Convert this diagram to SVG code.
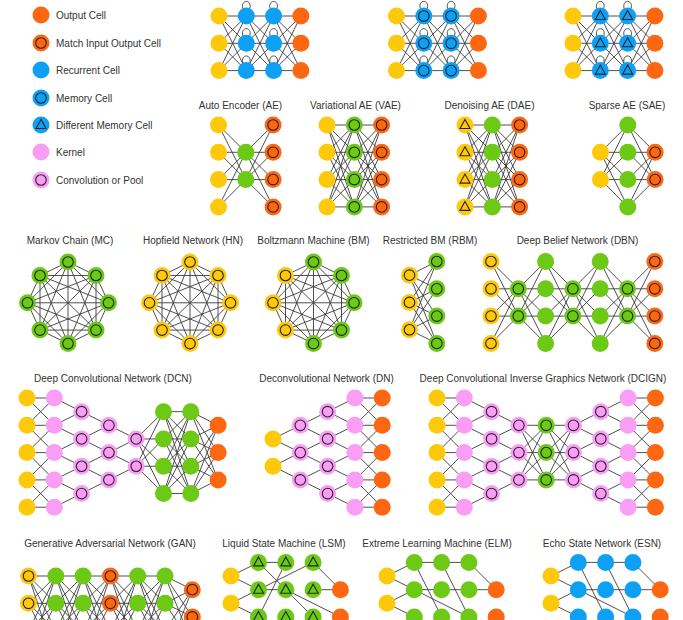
<svg xmlns="http://www.w3.org/2000/svg" width="683" height="620" viewBox="0 0 683 620">
<style>
.e{fill:none;stroke:#3c3c3c;stroke-width:0.9}
.m{fill:none;stroke:#262626;stroke-width:1.1}
text{font-family:"Liberation Sans",Arial,sans-serif;font-size:10px;fill:#333}
.t{text-anchor:middle}
</style>
<defs>
<circle id="Y" r="8.5" fill="#FEC80B"/>
<circle id="O" r="8.5" fill="#FE6711"/>
<circle id="B" r="8.5" fill="#0EA0F4"/>
<circle id="G" r="8.5" fill="#6CC916"/>
<circle id="P" r="8.5" fill="#F99DF5"/>
<circle id="ci" r="5.3" class="m"/>
<path id="tr" d="M0,-5.5L5,3.5L-5,3.5Z" class="m"/>
<g id="Yc"><use href="#Y"/><use href="#ci"/></g>
<g id="Yt"><use href="#Y"/><use href="#tr"/></g>
<g id="Oc"><use href="#O"/><use href="#ci"/></g>
<g id="Bc"><use href="#B"/><use href="#ci"/></g>
<g id="Bt"><use href="#B"/><use href="#tr"/></g>
<g id="Gc"><use href="#G"/><use href="#ci"/></g>
<g id="Gt"><use href="#G"/><use href="#tr"/></g>
<g id="Pc"><use href="#P"/><use href="#ci"/></g>
<path id="loop" class="e" d="M-3.5,-7.5C-6,-17 6,-17 3.5,-7.5"/>
<path id="F33" class="e" d="M0 0L27.3 0M0 0L27.3 27.3M0 0L27.3 54.6M0 27.3L27.3 0M0 27.3L27.3 27.3M0 27.3L27.3 54.6M0 54.6L27.3 0M0 54.6L27.3 27.3M0 54.6L27.3 54.6"/>
<path id="F44" class="e" d="M0 0L27.3 0M0 0L27.3 27.3M0 0L27.3 54.6M0 0L27.3 81.9M0 27.3L27.3 0M0 27.3L27.3 27.3M0 27.3L27.3 54.6M0 27.3L27.3 81.9M0 54.6L27.3 0M0 54.6L27.3 27.3M0 54.6L27.3 54.6M0 54.6L27.3 81.9M0 81.9L27.3 0M0 81.9L27.3 27.3M0 81.9L27.3 54.6M0 81.9L27.3 81.9"/>
<path id="F42" class="e" d="M0 0L27.3 27.3M0 0L27.3 54.6M0 27.3L27.3 27.3M0 27.3L27.3 54.6M0 54.6L27.3 27.3M0 54.6L27.3 54.6M0 81.9L27.3 27.3M0 81.9L27.3 54.6"/>
<path id="F24" class="e" d="M0 27.3L27.3 0M0 27.3L27.3 27.3M0 27.3L27.3 54.6M0 27.3L27.3 81.9M0 54.6L27.3 0M0 54.6L27.3 27.3M0 54.6L27.3 54.6M0 54.6L27.3 81.9"/>
<path id="F43h" class="e" d="M0 0L27.3 13.65M0 0L27.3 40.95M0 0L27.3 68.25M0 27.3L27.3 13.65M0 27.3L27.3 40.95M0 27.3L27.3 68.25M0 54.6L27.3 13.65M0 54.6L27.3 40.95M0 54.6L27.3 68.25M0 81.9L27.3 13.65M0 81.9L27.3 40.95M0 81.9L27.3 68.25"/>
<path id="F34h" class="e" d="M0 13.65L27.3 0M0 13.65L27.3 27.3M0 13.65L27.3 54.6M0 13.65L27.3 81.9M0 40.95L27.3 0M0 40.95L27.3 27.3M0 40.95L27.3 54.6M0 40.95L27.3 81.9M0 68.25L27.3 0M0 68.25L27.3 27.3M0 68.25L27.3 54.6M0 68.25L27.3 81.9"/>
<path id="X5" class="e" d="M0 0L27.3 0M0 27.3L27.3 27.3M0 54.6L27.3 54.6M0 81.9L27.3 81.9M0 109.2L27.3 109.2M0 0L27.3 27.3M0 27.3L27.3 0M0 27.3L27.3 54.6M0 54.6L27.3 27.3M0 54.6L27.3 81.9M0 81.9L27.3 54.6M0 81.9L27.3 109.2M0 109.2L27.3 81.9"/>
<path id="C54" class="e" d="M0 0L27.3 13.65M0 27.3L27.3 13.65M0 27.3L27.3 40.95M0 54.6L27.3 40.95M0 54.6L27.3 68.25M0 81.9L27.3 68.25M0 81.9L27.3 95.55M0 109.2L27.3 95.55"/>
<path id="C45" class="e" d="M0 13.65L27.3 0M0 13.65L27.3 27.3M0 40.95L27.3 27.3M0 40.95L27.3 54.6M0 68.25L27.3 54.6M0 68.25L27.3 81.9M0 95.55L27.3 81.9M0 95.55L27.3 109.2"/>
<path id="C43" class="e" d="M0 0L27.3 13.65M0 27.3L27.3 13.65M0 27.3L27.3 40.95M0 54.6L27.3 40.95M0 54.6L27.3 68.25M0 81.9L27.3 68.25"/>
<path id="C34" class="e" d="M0 13.65L27.3 0M0 13.65L27.3 27.3M0 40.95L27.3 27.3M0 40.95L27.3 54.6M0 68.25L27.3 54.6M0 68.25L27.3 81.9"/>
<path id="C32" class="e" d="M0 0L27.3 13.65M0 27.3L27.3 13.65M0 27.3L27.3 40.95M0 54.6L27.3 40.95"/>
<path id="C23" class="e" d="M0 13.65L27.3 0M0 13.65L27.3 27.3M0 40.95L27.3 27.3M0 40.95L27.3 54.6"/>
<path id="K8" class="e" d="M0,-40.8L28,-27.3L40.5,0L28,27.3L0,40.8L-28,27.3L-40.5,0L-28,-27.3ZM0,-40.8L40.5,0L0,40.8L-40.5,0ZM28,-27.3L28,27.3L-28,27.3L-28,-27.3ZM0,-40.8L28,27.3L-40.5,0L28,-27.3L0,40.8L-28,-27.3L40.5,0L-28,27.3ZM0,-40.8L0,40.8M28,-27.3L-28,27.3M40.5,0L-40.5,0M28,27.3L-28,-27.3"/>
</defs>
<rect width="683" height="620" fill="#fff"/>

<g id="legend">
<use href="#O" x="41" y="15"/><text x="56" y="18.6">Output Cell</text>
<use href="#Oc" x="41" y="43"/><text x="56" y="46.6">Match Input Output Cell</text>
<use href="#B" x="41" y="70"/><text x="56" y="73.6">Recurrent Cell</text>
<use href="#Bc" x="41" y="98"/><text x="56" y="101.6">Memory Cell</text>
<use href="#Bt" x="41" y="125"/><text x="56" y="128.6">Different Memory Cell</text>
<use href="#P" x="41" y="152"/><text x="56" y="155.6">Kernel</text>
<use href="#Pc" x="41" y="180"/><text x="56" y="183.6">Convolution or Pool</text>
</g>

<g id="connectors">
<use href="#F33" x="219" y="16"/><use href="#F33" x="246.3" y="16"/><use href="#F33" x="273.6" y="16"/>
<use href="#F33" x="396.5" y="16"/><use href="#F33" x="423.8" y="16"/><use href="#F33" x="451.1" y="16"/>
<use href="#F33" x="573" y="16"/><use href="#F33" x="600.3" y="16"/><use href="#F33" x="627.6" y="16"/>
<use href="#loop" x="246.3" y="16"/><use href="#loop" x="246.3" y="43.3"/><use href="#loop" x="246.3" y="70.6"/>
<use href="#loop" x="273.6" y="16"/><use href="#loop" x="273.6" y="43.3"/><use href="#loop" x="273.6" y="70.6"/>
<use href="#loop" x="423.8" y="16"/><use href="#loop" x="423.8" y="43.3"/><use href="#loop" x="423.8" y="70.6"/>
<use href="#loop" x="451.1" y="16"/><use href="#loop" x="451.1" y="43.3"/><use href="#loop" x="451.1" y="70.6"/>
<use href="#loop" x="600.3" y="16"/><use href="#loop" x="600.3" y="43.3"/><use href="#loop" x="600.3" y="70.6"/>
<use href="#loop" x="627.6" y="16"/><use href="#loop" x="627.6" y="43.3"/><use href="#loop" x="627.6" y="70.6"/>

<use href="#F42" x="218.5" y="125"/><use href="#F24" x="245.8" y="125"/>
<use href="#F44" x="327" y="125"/><use href="#F44" x="354.3" y="125"/>
<use href="#F44" x="465" y="125"/><use href="#F44" x="492.3" y="125"/>
<use href="#F24" x="600.5" y="125"/><use href="#F42" x="627.8" y="125"/>

<use href="#K8" x="68" y="302.8"/><use href="#K8" x="190" y="302.8"/><use href="#K8" x="313.5" y="302.8"/>
<use href="#F34h" x="409.5" y="261.5"/>
<use href="#F42" x="491" y="261.5"/><use href="#F24" x="518.3" y="261.5"/><use href="#F42" x="545.6" y="261.5"/><use href="#F24" x="572.9" y="261.5"/><use href="#F42" x="600.2" y="261.5"/><use href="#F24" x="627.5" y="261.5"/>

<use href="#X5" x="27" y="398"/><use href="#C54" x="54.3" y="398"/><use href="#C43" x="81.6" y="411.65"/><use href="#C32" x="108.9" y="425.3"/><use href="#F24" x="136.2" y="411.65"/><use href="#F44" x="163.5" y="411.65"/><use href="#F43h" x="190.8" y="411.65"/>
<use href="#C23" x="273" y="425.3"/><use href="#C34" x="300.3" y="411.65"/><use href="#C45" x="327.6" y="398"/><use href="#X5" x="354.9" y="398"/>
<use href="#X5" x="437" y="398"/><use href="#C54" x="464.3" y="398"/><use href="#C43" x="491.6" y="411.65"/><use href="#F33" x="518.9" y="425.3"/><use href="#F33" x="546.2" y="425.3"/><use href="#C34" x="573.5" y="411.65"/><use href="#C45" x="600.8" y="398"/><use href="#X5" x="628.1" y="398"/>

<use href="#F44" x="28.5" y="576"/><use href="#F44" x="55.8" y="576"/><use href="#F44" x="83.1" y="576"/><use href="#F44" x="110.4" y="576"/><use href="#F44" x="137.7" y="576"/><use href="#F43h" x="165" y="576"/>
<path class="e" d="M231 576L258.5 562.4M231 576L258.5 589.7M231 603.3L258.5 589.7M231 603.3L258.5 617M258.5 562.4L285.8 562.4M258.5 562.4L313.1 617M285.8 562.4L258.5 617M313.1 562.4L340.4 589.7M258.5 589.7L285.8 589.7M285.8 589.7L340.4 617M313.1 589.7L340.4 589.7M258.5 589.7L313.1 562.4"/>
<path class="e" d="M387 576L414.3 562.4M387 576L414.3 589.7M387 603.3L414.3 589.7M387 603.3L414.3 617M414.3 562.4L441.6 562.4M441.6 562.4L468.9 562.4M414.3 562.4L441.6 617M414.3 589.7L441.6 589.7M441.6 589.7L468.9 589.7M468.9 562.4L496.2 589.7M468.9 589.7L496.2 589.7M441.6 562.4L468.9 617M414.3 589.7L468.9 617"/>
<path class="e" d="M551 576L578.3 562.4M551 576L578.3 589.7M551 603.3L578.3 589.7M551 603.3L578.3 617M578.3 562.4L605.6 562.4M605.6 562.4L632.9 562.4M578.3 562.4L605.6 617M578.3 589.7L605.6 589.7M605.6 589.7L632.9 589.7M632.9 562.4L660.2 589.7M632.9 589.7L660.2 589.7M605.6 562.4L632.9 617M578.3 589.7L632.9 617"/>
</g>

<g id="rnn">
<use href="#Y" x="219" y="16"/><use href="#Y" x="219" y="43.3"/><use href="#Y" x="219" y="70.6"/>
<use href="#B" x="246.3" y="16"/><use href="#B" x="246.3" y="43.3"/><use href="#B" x="246.3" y="70.6"/>
<use href="#B" x="273.6" y="16"/><use href="#B" x="273.6" y="43.3"/><use href="#B" x="273.6" y="70.6"/>
<use href="#O" x="300.9" y="16"/><use href="#O" x="300.9" y="43.3"/><use href="#O" x="300.9" y="70.6"/>
</g>
<g id="lstm">
<use href="#Y" x="396.5" y="16"/><use href="#Y" x="396.5" y="43.3"/><use href="#Y" x="396.5" y="70.6"/>
<use href="#Bc" x="423.8" y="16"/><use href="#Bc" x="423.8" y="43.3"/><use href="#Bc" x="423.8" y="70.6"/>
<use href="#Bc" x="451.1" y="16"/><use href="#Bc" x="451.1" y="43.3"/><use href="#Bc" x="451.1" y="70.6"/>
<use href="#O" x="478.4" y="16"/><use href="#O" x="478.4" y="43.3"/><use href="#O" x="478.4" y="70.6"/>
</g>
<g id="gru">
<use href="#Y" x="573" y="16"/><use href="#Y" x="573" y="43.3"/><use href="#Y" x="573" y="70.6"/>
<use href="#Bt" x="600.3" y="16"/><use href="#Bt" x="600.3" y="43.3"/><use href="#Bt" x="600.3" y="70.6"/>
<use href="#Bt" x="627.6" y="16"/><use href="#Bt" x="627.6" y="43.3"/><use href="#Bt" x="627.6" y="70.6"/>
<use href="#O" x="654.9" y="16"/><use href="#O" x="654.9" y="43.3"/><use href="#O" x="654.9" y="70.6"/>
</g>

<g id="ae">
<text class="t" x="240.5" y="109.3">Auto Encoder (AE)</text>
<use href="#Y" x="218.5" y="125"/><use href="#Y" x="218.5" y="152.3"/><use href="#Y" x="218.5" y="179.6"/><use href="#Y" x="218.5" y="206.9"/>
<use href="#G" x="245.8" y="152.3"/><use href="#G" x="245.8" y="179.6"/>
<use href="#Oc" x="273.1" y="125"/><use href="#Oc" x="273.1" y="152.3"/><use href="#Oc" x="273.1" y="179.6"/><use href="#Oc" x="273.1" y="206.9"/>
</g>
<g id="vae">
<text class="t" x="355.5" y="109.3">Variational AE (VAE)</text>
<use href="#Y" x="327" y="125"/><use href="#Y" x="327" y="152.3"/><use href="#Y" x="327" y="179.6"/><use href="#Y" x="327" y="206.9"/>
<use href="#Gc" x="354.3" y="125"/><use href="#Gc" x="354.3" y="152.3"/><use href="#Gc" x="354.3" y="179.6"/><use href="#Gc" x="354.3" y="206.9"/>
<use href="#Oc" x="381.6" y="125"/><use href="#Oc" x="381.6" y="152.3"/><use href="#Oc" x="381.6" y="179.6"/><use href="#Oc" x="381.6" y="206.9"/>
</g>
<g id="dae">
<text class="t" x="489.5" y="109.3">Denoising AE (DAE)</text>
<use href="#Yt" x="465" y="125"/><use href="#Yt" x="465" y="152.3"/><use href="#Yt" x="465" y="179.6"/><use href="#Yt" x="465" y="206.9"/>
<use href="#G" x="492.3" y="125"/><use href="#G" x="492.3" y="152.3"/><use href="#G" x="492.3" y="179.6"/><use href="#G" x="492.3" y="206.9"/>
<use href="#Oc" x="519.6" y="125"/><use href="#Oc" x="519.6" y="152.3"/><use href="#Oc" x="519.6" y="179.6"/><use href="#Oc" x="519.6" y="206.9"/>
</g>
<g id="sae">
<text class="t" x="627" y="109.3">Sparse AE (SAE)</text>
<use href="#Y" x="600.5" y="152.3"/><use href="#Y" x="600.5" y="179.6"/>
<use href="#G" x="627.8" y="125"/><use href="#G" x="627.8" y="152.3"/><use href="#G" x="627.8" y="179.6"/><use href="#G" x="627.8" y="206.9"/>
<use href="#Oc" x="655.1" y="152.3"/><use href="#Oc" x="655.1" y="179.6"/>
</g>

<g id="mc">
<text class="t" x="70" y="244.3">Markov Chain (MC)</text>
<use href="#Gc" x="68" y="262"/><use href="#Gc" x="96" y="275.5"/><use href="#Gc" x="108.5" y="302.8"/><use href="#Gc" x="96" y="330.1"/><use href="#Gc" x="68" y="343.6"/><use href="#Gc" x="40" y="330.1"/><use href="#Gc" x="27.5" y="302.8"/><use href="#Gc" x="40" y="275.5"/>
</g>
<g id="hn">
<text class="t" x="193" y="244.3">Hopfield Network (HN)</text>
<use href="#Yc" x="190" y="262"/><use href="#Yc" x="218" y="275.5"/><use href="#Yc" x="230.5" y="302.8"/><use href="#Yc" x="218" y="330.1"/><use href="#Yc" x="190" y="343.6"/><use href="#Yc" x="162" y="330.1"/><use href="#Yc" x="149.5" y="302.8"/><use href="#Yc" x="162" y="275.5"/>
</g>
<g id="bm">
<text class="t" x="313.5" y="244.3">Boltzmann Machine (BM)</text>
<use href="#Gc" x="313.5" y="262"/><use href="#Gc" x="341.5" y="275.5"/><use href="#Gc" x="354" y="302.8"/><use href="#Gc" x="341.5" y="330.1"/><use href="#Gc" x="313.5" y="343.6"/><use href="#Yc" x="285.5" y="330.1"/><use href="#Yc" x="273" y="302.8"/><use href="#Yc" x="285.5" y="275.5"/>
</g>
<g id="rbm">
<text class="t" x="430" y="244.3">Restricted BM (RBM)</text>
<use href="#Yc" x="409.5" y="275.15"/><use href="#Yc" x="409.5" y="302.45"/><use href="#Yc" x="409.5" y="329.75"/>
<use href="#Gc" x="436.8" y="261.5"/><use href="#Gc" x="436.8" y="288.8"/><use href="#Gc" x="436.8" y="316.1"/><use href="#Gc" x="436.8" y="343.4"/>
</g>
<g id="dbn">
<text class="t" x="577.5" y="244.3">Deep Belief Network (DBN)</text>
<use href="#Yc" x="491" y="261.5"/><use href="#Yc" x="491" y="288.8"/><use href="#Yc" x="491" y="316.1"/><use href="#Yc" x="491" y="343.4"/>
<use href="#Gc" x="518.3" y="288.8"/><use href="#Gc" x="518.3" y="316.1"/>
<use href="#G" x="545.6" y="261.5"/><use href="#G" x="545.6" y="288.8"/><use href="#G" x="545.6" y="316.1"/><use href="#G" x="545.6" y="343.4"/>
<use href="#Gc" x="572.9" y="288.8"/><use href="#Gc" x="572.9" y="316.1"/>
<use href="#G" x="600.2" y="261.5"/><use href="#G" x="600.2" y="288.8"/><use href="#G" x="600.2" y="316.1"/><use href="#G" x="600.2" y="343.4"/>
<use href="#Gc" x="627.5" y="288.8"/><use href="#Gc" x="627.5" y="316.1"/>
<use href="#Oc" x="654.8" y="261.5"/><use href="#Oc" x="654.8" y="288.8"/><use href="#Oc" x="654.8" y="316.1"/><use href="#Oc" x="654.8" y="343.4"/>
</g>

<g id="dcn">
<text class="t" x="113" y="381.6">Deep Convolutional Network (DCN)</text>
<use href="#Y" x="27" y="398"/><use href="#Y" x="27" y="425.3"/><use href="#Y" x="27" y="452.6"/><use href="#Y" x="27" y="479.9"/><use href="#Y" x="27" y="507.2"/>
<use href="#P" x="54.3" y="398"/><use href="#P" x="54.3" y="425.3"/><use href="#P" x="54.3" y="452.6"/><use href="#P" x="54.3" y="479.9"/><use href="#P" x="54.3" y="507.2"/>
<use href="#Pc" x="81.6" y="411.65"/><use href="#Pc" x="81.6" y="438.95"/><use href="#Pc" x="81.6" y="466.25"/><use href="#Pc" x="81.6" y="493.55"/>
<use href="#Pc" x="108.9" y="425.3"/><use href="#Pc" x="108.9" y="452.6"/><use href="#Pc" x="108.9" y="479.9"/>
<use href="#Pc" x="136.2" y="438.95"/><use href="#Pc" x="136.2" y="466.25"/>
<use href="#G" x="163.5" y="411.65"/><use href="#G" x="163.5" y="438.95"/><use href="#G" x="163.5" y="466.25"/><use href="#G" x="163.5" y="493.55"/>
<use href="#G" x="190.8" y="411.65"/><use href="#G" x="190.8" y="438.95"/><use href="#G" x="190.8" y="466.25"/><use href="#G" x="190.8" y="493.55"/>
<use href="#O" x="218.1" y="425.3"/><use href="#O" x="218.1" y="452.6"/><use href="#O" x="218.1" y="479.9"/>
</g>
<g id="dn">
<text class="t" x="326.5" y="381.6">Deconvolutional Network (DN)</text>
<use href="#Y" x="273" y="438.95"/><use href="#Y" x="273" y="466.25"/>
<use href="#Pc" x="300.3" y="425.3"/><use href="#Pc" x="300.3" y="452.6"/><use href="#Pc" x="300.3" y="479.9"/>
<use href="#Pc" x="327.6" y="411.65"/><use href="#Pc" x="327.6" y="438.95"/><use href="#Pc" x="327.6" y="466.25"/><use href="#Pc" x="327.6" y="493.55"/>
<use href="#P" x="354.9" y="398"/><use href="#P" x="354.9" y="425.3"/><use href="#P" x="354.9" y="452.6"/><use href="#P" x="354.9" y="479.9"/><use href="#P" x="354.9" y="507.2"/>
<use href="#O" x="382.2" y="398"/><use href="#O" x="382.2" y="425.3"/><use href="#O" x="382.2" y="452.6"/><use href="#O" x="382.2" y="479.9"/><use href="#O" x="382.2" y="507.2"/>
</g>
<g id="dcign">
<text class="t" x="543" y="381.6">Deep Convolutional Inverse Graphics Network (DCIGN)</text>
<use href="#Y" x="437" y="398"/><use href="#Y" x="437" y="425.3"/><use href="#Y" x="437" y="452.6"/><use href="#Y" x="437" y="479.9"/><use href="#Y" x="437" y="507.2"/>
<use href="#P" x="464.3" y="398"/><use href="#P" x="464.3" y="425.3"/><use href="#P" x="464.3" y="452.6"/><use href="#P" x="464.3" y="479.9"/><use href="#P" x="464.3" y="507.2"/>
<use href="#Pc" x="491.6" y="411.65"/><use href="#Pc" x="491.6" y="438.95"/><use href="#Pc" x="491.6" y="466.25"/><use href="#Pc" x="491.6" y="493.55"/>
<use href="#Pc" x="518.9" y="425.3"/><use href="#Pc" x="518.9" y="452.6"/><use href="#Pc" x="518.9" y="479.9"/>
<use href="#Gc" x="546.2" y="425.3"/><use href="#Gc" x="546.2" y="452.6"/><use href="#Gc" x="546.2" y="479.9"/>
<use href="#Pc" x="573.5" y="425.3"/><use href="#Pc" x="573.5" y="452.6"/><use href="#Pc" x="573.5" y="479.9"/>
<use href="#Pc" x="600.8" y="411.65"/><use href="#Pc" x="600.8" y="438.95"/><use href="#Pc" x="600.8" y="466.25"/><use href="#Pc" x="600.8" y="493.55"/>
<use href="#P" x="628.1" y="398"/><use href="#P" x="628.1" y="425.3"/><use href="#P" x="628.1" y="452.6"/><use href="#P" x="628.1" y="479.9"/><use href="#P" x="628.1" y="507.2"/>
<use href="#O" x="655.4" y="398"/><use href="#O" x="655.4" y="425.3"/><use href="#O" x="655.4" y="452.6"/><use href="#O" x="655.4" y="479.9"/><use href="#O" x="655.4" y="507.2"/>
</g>

<g id="gan">
<text class="t" x="110" y="546.6">Generative Adversarial Network (GAN)</text>
<use href="#Yc" x="28.5" y="576"/><use href="#Yc" x="28.5" y="603.3"/><use href="#Yc" x="28.5" y="630.6"/>
<use href="#G" x="55.8" y="576"/><use href="#G" x="55.8" y="603.3"/><use href="#G" x="55.8" y="630.6"/>
<use href="#G" x="83.1" y="576"/><use href="#G" x="83.1" y="603.3"/><use href="#G" x="83.1" y="630.6"/>
<use href="#Oc" x="110.4" y="576"/><use href="#Oc" x="110.4" y="603.3"/><use href="#Oc" x="110.4" y="630.6"/>
<use href="#G" x="137.7" y="576"/><use href="#G" x="137.7" y="603.3"/><use href="#G" x="137.7" y="630.6"/>
<use href="#G" x="165" y="576"/><use href="#G" x="165" y="603.3"/><use href="#G" x="165" y="630.6"/>
<use href="#Oc" x="192.3" y="589.65"/><use href="#Oc" x="192.3" y="616.95"/>
</g>
<g id="lsm">
<text class="t" x="284" y="546.6">Liquid State Machine (LSM)</text>
<use href="#Y" x="231" y="576"/><use href="#Y" x="231" y="603.3"/>
<use href="#Gt" x="258.5" y="562.4"/><use href="#Gt" x="285.8" y="562.4"/><use href="#Gt" x="313.1" y="562.4"/>
<use href="#Gt" x="258.5" y="589.7"/><use href="#Gt" x="285.8" y="589.7"/><use href="#Gt" x="313.1" y="589.7"/>
<use href="#Gt" x="258.5" y="617"/><use href="#Gt" x="285.8" y="617"/><use href="#Gt" x="313.1" y="617"/>
<use href="#O" x="340.4" y="589.7"/><use href="#O" x="340.4" y="617"/>
</g>
<g id="elm">
<text class="t" x="437" y="546.6">Extreme Learning Machine (ELM)</text>
<use href="#Y" x="387" y="576"/><use href="#Y" x="387" y="603.3"/>
<use href="#G" x="414.3" y="562.4"/><use href="#G" x="441.6" y="562.4"/><use href="#G" x="468.9" y="562.4"/>
<use href="#G" x="414.3" y="589.7"/><use href="#G" x="441.6" y="589.7"/><use href="#G" x="468.9" y="589.7"/>
<use href="#G" x="414.3" y="617"/><use href="#G" x="441.6" y="617"/><use href="#G" x="468.9" y="617"/>
<use href="#O" x="496.2" y="589.7"/><use href="#O" x="496.2" y="617"/>
</g>
<g id="esn">
<text class="t" x="602" y="546.6">Echo State Network (ESN)</text>
<use href="#Y" x="551" y="576"/><use href="#Y" x="551" y="603.3"/>
<use href="#B" x="578.3" y="562.4"/><use href="#B" x="605.6" y="562.4"/><use href="#B" x="632.9" y="562.4"/>
<use href="#B" x="578.3" y="589.7"/><use href="#B" x="605.6" y="589.7"/><use href="#B" x="632.9" y="589.7"/>
<use href="#B" x="578.3" y="617"/><use href="#B" x="605.6" y="617"/><use href="#B" x="632.9" y="617"/>
<use href="#O" x="660.2" y="589.7"/><use href="#O" x="660.2" y="617"/>
</g>
</svg>
